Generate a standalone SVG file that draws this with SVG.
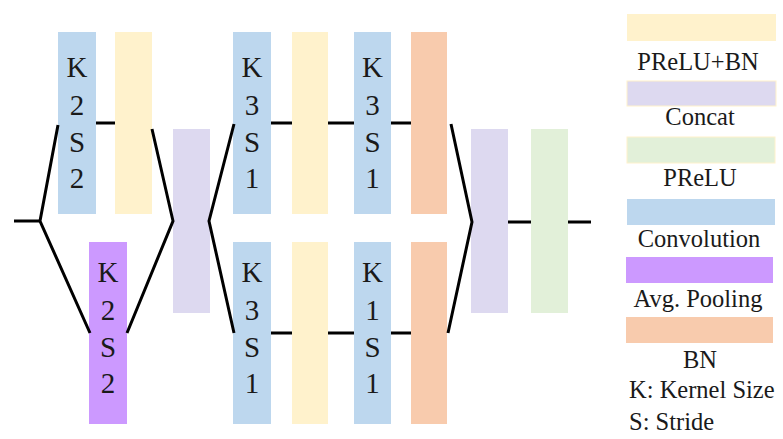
<svg xmlns="http://www.w3.org/2000/svg" width="783" height="439" viewBox="0 0 783 439">
<style>
.conv{fill:#BDD7EE}
.pb{fill:#FFF2CC}
.cat{fill:#DDD9F0}
.pr{fill:#E2F0D9}
.pool{fill:#CC99FF}
.bn{fill:#F8CBAD}
text{font-family:"Liberation Serif",Tinos,"Times New Roman",Times,"DejaVu Serif",serif;fill:#1a1a1a;text-anchor:middle}
.t{font-size:29px}
.lg{font-size:24.5px}
.ln{stroke:#000;stroke-width:3;fill:none;stroke-linejoin:miter}
</style>
<rect width="783" height="439" fill="#fff"/>
<g id="conv1"><rect class="conv" x="58" y="32" width="38" height="182"/>
<text class="t" x="77" y="77">K</text><text class="t" x="77" y="115">2</text><text class="t" x="77" y="152">S</text><text class="t" x="77" y="188">2</text></g>
<g id="prbn1"><rect class="pb" x="115" y="32" width="37" height="182"/></g>
<g id="pool1"><rect class="pool" x="89" y="242" width="38" height="182"/>
<text class="t" x="108" y="282">K</text><text class="t" x="108" y="320">2</text><text class="t" x="108" y="357">S</text><text class="t" x="108" y="393">2</text></g>
<g id="concat1"><rect class="cat" x="173" y="129" width="37" height="184"/></g>
<g id="conv2"><rect class="conv" x="233" y="32" width="38" height="182"/>
<text class="t" x="252" y="77">K</text><text class="t" x="252" y="115">3</text><text class="t" x="252" y="152">S</text><text class="t" x="252" y="188">1</text></g>
<g id="prbn2"><rect class="pb" x="292" y="32" width="36" height="182"/></g>
<g id="conv3"><rect class="conv" x="354" y="32" width="37" height="182"/>
<text class="t" x="372.5" y="77">K</text><text class="t" x="372.5" y="115">3</text><text class="t" x="372.5" y="152">S</text><text class="t" x="372.5" y="188">1</text></g>
<g id="bn1"><rect class="bn" x="411" y="32" width="36" height="182"/></g>
<g id="conv4"><rect class="conv" x="233" y="242" width="38" height="182"/>
<text class="t" x="252" y="282">K</text><text class="t" x="252" y="320">3</text><text class="t" x="252" y="357">S</text><text class="t" x="252" y="393">1</text></g>
<g id="prbn3"><rect class="pb" x="292" y="242" width="36" height="182"/></g>
<g id="conv5"><rect class="conv" x="354" y="242" width="37" height="182"/>
<text class="t" x="372.5" y="282">K</text><text class="t" x="372.5" y="320">1</text><text class="t" x="372.5" y="357">S</text><text class="t" x="372.5" y="393">1</text></g>
<g id="bn2"><rect class="bn" x="411" y="242" width="36" height="182"/></g>
<g id="concat2"><rect class="cat" x="471" y="129" width="37" height="184"/></g>
<g id="prelu"><rect class="pr" x="531" y="129" width="37" height="184"/></g>
<g id="connectors">
<path class="ln" d="M14 221H40"/>
<path class="ln" d="M58 125L40 221L90 333"/>
<path class="ln" d="M96 123H115"/>
<path class="ln" d="M152 129L173 221L127 333"/>
<path class="ln" d="M234 124L209 221L234 333"/>
<path class="ln" d="M271 123H292M328 123H354M391 123H411"/>
<path class="ln" d="M271 333H292M328 333H354M391 333H411"/>
<path class="ln" d="M451 124L472 222L448 333"/>
<path class="ln" d="M508 222H531M568 222H591"/>
</g>
<g id="legend">
<rect class="pb" x="627" y="14" width="149" height="27"/>
<text class="lg" x="698" y="70">PReLU+BN</text>
<rect class="cat" x="627" y="81" width="149" height="25" stroke="#FFF2CC" stroke-width="1"/>
<text class="lg" x="700" y="125">Concat</text>
<rect class="pr" x="627" y="137" width="148" height="26" stroke="#FFF2CC" stroke-width="1"/>
<text class="lg" x="700" y="186">PReLU</text>
<rect class="conv" x="627" y="199" width="148" height="26"/>
<text class="lg" x="699" y="247">Convolution</text>
<rect class="pool" x="626" y="257" width="147" height="26"/>
<text class="lg" x="698" y="307">Avg. Pooling</text>
<rect class="bn" x="626" y="317" width="147" height="26"/>
<text class="lg" x="700" y="368">BN</text>
<text class="lg" x="629" y="398" style="text-anchor:start">K: Kernel Size</text>
<text class="lg" x="629" y="430" style="text-anchor:start">S: Stride</text>
</g>
</svg>
